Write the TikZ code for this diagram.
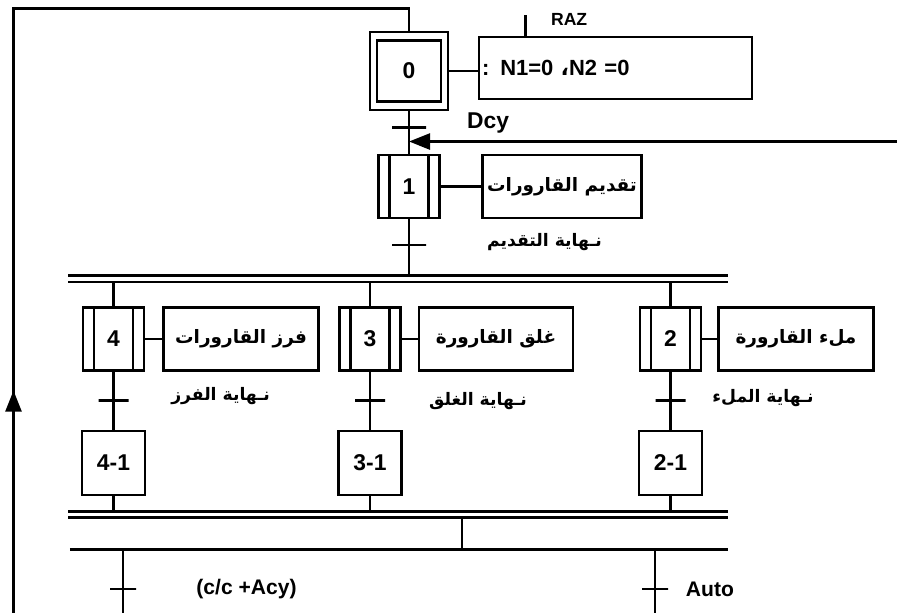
\documentclass[tikz,border=0pt]{standalone}
\usepackage{fontspec}
\setmainfont{Liberation Sans}
\newfontfamily\arabicfont[Script=Arabic]{DejaVu Sans}
\TeXXeTstate=1
\usetikzlibrary{arrows.meta}
\newcommand{\artxt}[1]{{\arabicfont\bfseries\beginR #1\endR}}
\tikzset{
  stepinit/.style={draw, minimum width=1.56cm, minimum height=1.56cm, inner sep=0pt,
                   font=\bfseries\fontsize{13}{15}\selectfont},
  stepin/.style  ={draw, minimum width=1.28cm, minimum height=1.22cm, inner sep=0pt},
  stepmac/.style ={draw, minimum width=1.22cm, minimum height=1.26cm, inner sep=0pt,
                   font=\bfseries\fontsize{13}{15}\selectfont,
                   path picture={
                     \draw[line width=1.4pt] ([xshift=2.2mm]path picture bounding box.north west)
                        -- ([xshift=2.2mm]path picture bounding box.south west);
                     \draw[line width=1.4pt] ([xshift=-2.2mm]path picture bounding box.north east)
                        -- ([xshift=-2.2mm]path picture bounding box.south east);}},
  stepbox/.style ={draw, minimum width=1.26cm, minimum height=1.28cm, inner sep=0pt,
                   font=\bfseries\fontsize{13}{15}\selectfont},
  act/.style     ={draw, minimum height=1.26cm, inner sep=0pt, fill=white,
                   font=\fontsize{10.5}{13}\selectfont},
  transit/.style ={draw, minimum width=6mm, minimum height=0pt, inner sep=0pt},
  lbl/.style     ={inner sep=0pt},
  albl/.style    ={inner sep=0pt, font=\fontsize{9.8}{12}\selectfont},
  back/.style    ={-{Triangle[length=4.2mm, width=3.2mm]}},
}
\begin{document}
\begin{tikzpicture}[line width=1.4pt, font=\bfseries\fontsize{12}{14}\selectfont]
  \useasboundingbox (0,0) rectangle (17.94,-12.26);
  \node[stepinit] (s0) at (8.18,-1.42) {0};
  \node[stepin] (s0i) at (s0) {};
  \node[act, text width=5.34cm, inner xsep=0.6mm, align=left, minimum height=1.24cm,
        font=\bfseries\fontsize{12.5}{14}\selectfont] (a0) at (12.31,-1.36) {: N1=0 {\arabicfont ،}N2 =0};
  \draw (s0.east) -- (s0.east -| a0.west);
  \coordinate (raz) at (10.51,-0.30);
  \draw (raz) -- (raz |- a0.north);
  \node[anchor=base west, font=\bfseries\fontsize{10}{12}\selectfont] (razt) at (10.88,-0.50) {RAZ};

  \node[stepmac] (s1) at (8.18,-3.73) {1};
  \draw (s0.south) -- (s1.north);
  \node[transit, minimum width=6.8mm] (t0) at (8.18,-2.55) {};
  \node[anchor=base west, font=\bfseries\fontsize{13}{15}\selectfont] (dcy) at (9.20,-2.56) {Dcy};
  \coordinate (rin) at (17.94,-2.83);
  \draw[back] (rin) -- (rin -| s1.north);
  \node[act, minimum width=3.18cm] (a1) at (11.24,-3.73) {\artxt{تقديم القارورات}};
  \draw (s1.east) -- (a1.west);
  \node[transit, minimum width=6.8mm] (t1) at (8.18,-4.90) {};
  \node[albl] (l1) at (10.89,-4.84) {\artxt{نـهاية التقديم}};

  \coordinate (da) at (1.36,-5.51);
  \coordinate (db) at (1.36,-5.64);
  \draw (da) -- ++(13.2,0);
  \draw (db) -- ++(13.2,0);
  \draw (s1.south) -- (s1.south |- da);

  \node[stepmac] (s4) at (2.27,-6.78) {4};
  \node[stepmac] (s3) at (7.40,-6.78) {3};
  \node[stepmac] (s2) at (13.41,-6.78) {2};
  \node[act, minimum width=3.10cm] (a4) at (4.82,-6.78) {\artxt{فرز القارورات}};
  \node[act, minimum width=3.07cm] (a3) at (9.92,-6.78) {\artxt{غلق القارورة}};
  \node[act, minimum width=3.10cm] (a2) at (15.92,-6.78) {\artxt{ملء القارورة}};
  \draw (s4.north) -- (s4.north |- db);
  \draw (s3.north) -- (s3.north |- db);
  \draw (s2.north) -- (s2.north |- db);
  \draw (s4.east) -- (a4.west);
  \draw (s3.east) -- (a3.west);
  \draw (s2.east) -- (a2.west);

  \node[stepbox] (b4) at (2.27,-9.26) {4-1};
  \node[stepbox] (b3) at (7.40,-9.26) {3-1};
  \node[stepbox] (b2) at (13.41,-9.26) {2-1};
  \draw (s4.south) -- (b4.north);
  \draw (s3.south) -- (b3.north);
  \draw (s2.south) -- (b2.north);
  \node[transit] (t4) at (2.27,-8.01) {};
  \node[transit] (t3) at (7.40,-8.01) {};
  \node[transit] (t2) at (13.41,-8.01) {};
  \node[albl] (l4) at (4.41,-7.92) {\artxt{نـهاية الفرز}};
  \node[albl] (l3) at (9.56,-8.02) {\artxt{نـهاية الغلق}};
  \node[albl] (l2) at (15.26,-7.96) {\artxt{نـهاية الملء}};

  \coordinate (fa) at (1.36,-10.23);
  \coordinate (fb) at (1.36,-10.35);
  \draw (fa) -- ++(13.2,0);
  \draw (fb) -- ++(13.2,0);
  \draw (b4.south) -- (b4.south |- fa);
  \draw (b3.south) -- (b3.south |- fa);
  \draw (b2.south) -- (b2.south |- fa);
  \coordinate (fm) at (9.24,-10.35);
  \coordinate (sa) at (1.40,-10.99);
  \draw (sa) -- ++(13.16,0);
  \draw[line width=0.8pt] (fm) -- (fm |- sa);

  \coordinate (ca) at (2.46,-12.26);
  \coordinate (cb) at (13.10,-12.26);
  \draw (ca |- sa) -- (ca);
  \draw (cb |- sa) -- (cb);
  \node[transit, minimum width=5.2mm] (tc) at (2.46,-11.78) {};
  \node[transit, minimum width=5.2mm] (tb) at (13.10,-11.78) {};
  \node[lbl] (lc) at (4.93,-11.78) {(c/c +Acy)};
  \node[lbl] (lb) at (14.20,-11.78) {Auto};

  \coordinate (lt) at (0.27,-0.17);
  \coordinate (lo) at (0.27,-12.26);
  \coordinate (la) at (0.27,-7.81);
  \draw (lo) -- (lt) -| (s0.north);
  \draw[back] (lo) -- (la);
\end{tikzpicture}
\end{document}
